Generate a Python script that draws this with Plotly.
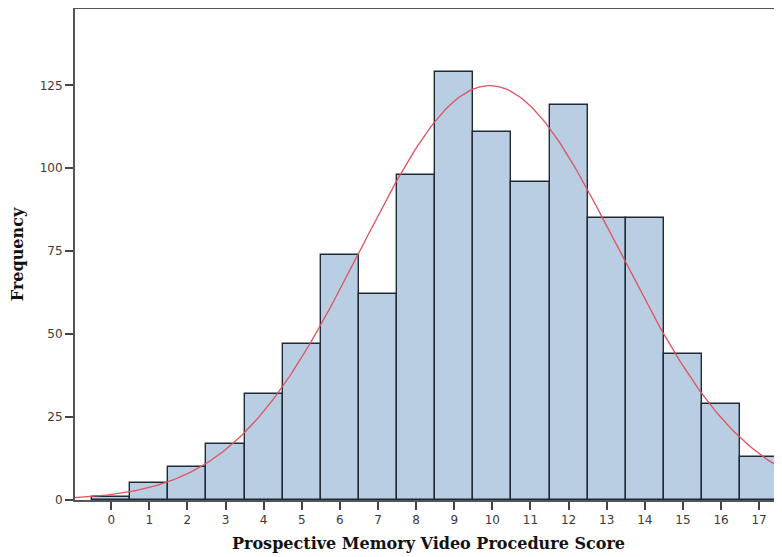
import numpy as np
import plotly.graph_objects as go

# histogram counts
scores = list(range(0, 18))
counts = [1, 5, 10, 17, 32, 47, 74, 62, 98, 129, 111, 96, 119, 85, 85, 44, 29, 13]
y_ticks = [0, 25, 50, 75, 100, 125]

# normal curve fitted to the histogram (mean / sd / N from the counts)
s = np.array(scores, dtype=float)
c = np.array(counts, dtype=float)
n = c.sum()
mean = (s * c).sum() / n
sd = np.sqrt(((s - mean) ** 2 * c).sum() / (n - 1))
xs = np.linspace(-0.95, 17.8, 300)
ys = n / (sd * np.sqrt(2 * np.pi)) * np.exp(-0.5 * ((xs - mean) / sd) ** 2)

fig = go.Figure()
fig.add_trace(go.Bar(
    x=scores, y=counts, width=1,
    marker=dict(color="#b9cde3", line=dict(color="#1e2a36", width=1.4)),
    showlegend=False
))
fig.add_trace(go.Scatter(
    x=xs, y=ys, mode="lines",
    line=dict(color="#e0525c", width=1.3),
    showlegend=False
))

title_font = dict(family="DejaVu Serif", size=16, color="#111111")

# page body adds an 8px offset, so the figure is drawn 8px smaller
fig.update_layout(
    width=774, height=549,
    margin=dict(l=67, r=0, t=1, b=57),
    paper_bgcolor="white",
    plot_bgcolor="white",
    bargap=0,
    font=dict(family="DejaVu Sans", size=12, color="#3a3a3a"),
)
fig.update_xaxes(
    range=[-0.95, 17.6],
    tickvals=scores,
    ticks="outside", ticklen=8, tickcolor="#444444", tickwidth=1.5,
    showline=True, linecolor="#555555", linewidth=1.5, mirror=True,
    showgrid=False, zeroline=False,
    title=dict(text="<b>Prospective Memory Video Procedure Score</b>",
               font=title_font, standoff=12),
)
fig.update_yaxes(
    range=[0, 148],
    tickvals=y_ticks,
    ticks="outside", ticklen=8, tickcolor="#444444", tickwidth=1.5,
    showline=True, linecolor="#555555", linewidth=2,
    showgrid=False, zeroline=False,
    title=dict(text="<b>Frequency</b>", font=title_font, standoff=18),
)

fig.write_html("out.html")
